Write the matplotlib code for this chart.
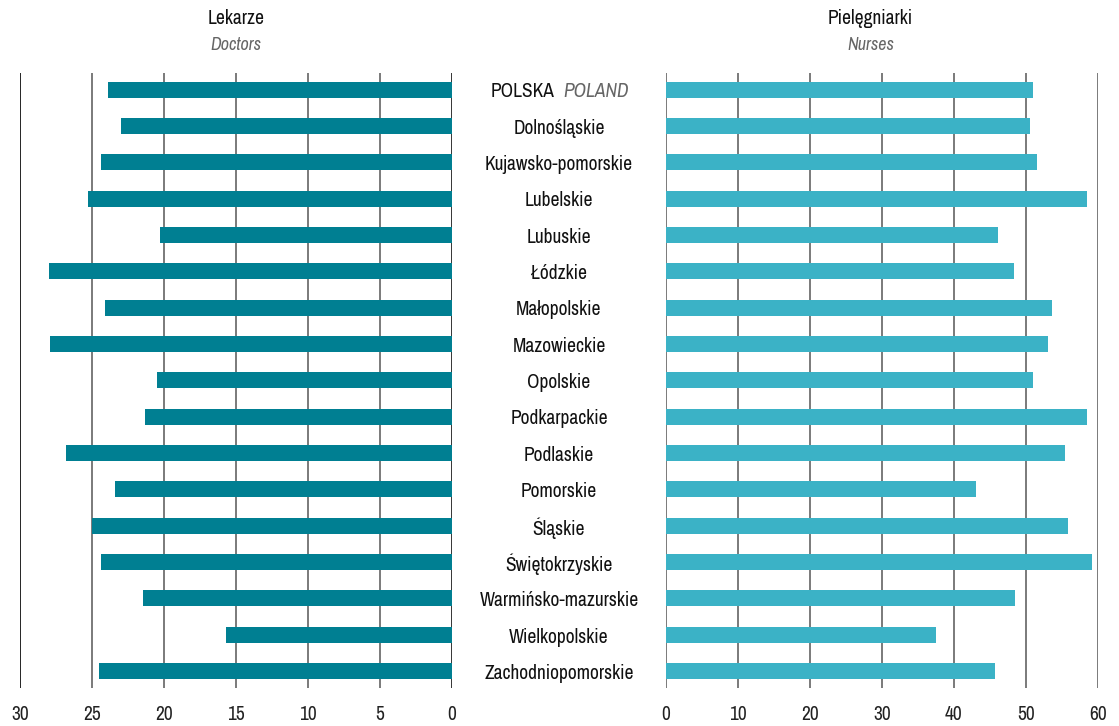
import matplotlib
matplotlib.use("Agg")
import matplotlib.pyplot as plt
from matplotlib import font_manager
import numpy as np

# look for a narrow face, the original uses a condensed font
narrow = sorted({f.name for f in font_manager.fontManager.ttflist
				 if 'Condensed' in f.name or 'Narrow' in f.name
				 or f.stretch in ('condensed', 'semi-condensed', 'extra-condensed')})
plt.rcParams['font.family'] = narrow[:1] + ['DejaVu Sans']

regions = ["POLSKA", "Dolnośląskie", "Kujawsko-pomorskie", "Lubelskie", "Lubuskie",
           "Łódzkie", "Małopolskie", "Mazowieckie", "Opolskie", "Podkarpackie",
           "Podlaskie", "Pomorskie", "Śląskie", "Świętokrzyskie",
           "Warmińsko-mazurskie", "Wielkopolskie", "Zachodniopomorskie"]
doctors = [23.9, 23.0, 24.4, 25.3, 20.3, 28.0, 24.1, 27.9, 20.5, 21.3,
           26.8, 23.4, 25.0, 24.4, 21.5, 15.7, 24.5]
nurses = [51.0, 50.6, 51.6, 58.5, 46.1, 48.4, 53.6, 53.1, 51.0, 58.5,
          55.4, 43.1, 55.9, 59.2, 48.5, 37.6, 45.7]
left_ticks = [0, 5, 10, 15, 20, 25, 30]
right_ticks = [0, 10, 20, 30, 40, 50, 60]

dark = "#007f92"
light = "#3bb2c6"
grid_c = "#707070"
fs = 13 if narrow else 12

fig = plt.figure(figsize=(11.19, 7.26), dpi=100)
axl = fig.add_axes([0.018, 0.052, 0.386, 0.848])
axr = fig.add_axes([0.595, 0.052, 0.386, 0.848])

y = np.arange(len(regions))

def style(ax, ticks, lim):
	for t in ticks:
		ax.axvline(t, color=grid_c, lw=1.3, zorder=0)
	ax.set_xlim(lim)
	ax.set_ylim(len(regions) - 0.53, -0.47)
	ax.set_xticks(ticks)
	ax.set_yticks([])
	ax.tick_params(axis='x', length=0, labelsize=fs + 1, pad=12, colors="#222222")
	for s in ax.spines.values():
		s.set_visible(False)

axl.barh(y, doctors, height=0.44, color=dark, zorder=2)
style(axl, left_ticks, (30, 0))
axl.axvline(30, color="#222222", lw=1.3, zorder=1)
axl.axvline(0, color="#333333", lw=1.3, zorder=1)

axr.barh(y, nurses, height=0.44, color=light, zorder=2)
style(axr, right_ticks, (0, 60))

# region names in the middle
xc = 0.5 * (0.404 + 0.595)
for i, name in enumerate(regions):
	yy = axl.transData.transform((0, i))[1]
	yf = fig.transFigure.inverted().transform((0, yy))[1] - 0.003
	if i == 0:
		fig.text(xc - 0.004, yf, "POLSKA", ha='right', va='center', fontsize=fs + 1, color="#111111")
		fig.text(xc + 0.004, yf, "POLAND", ha='left', va='center', fontsize=fs + 1,
				 color="#666666", style='italic')
	else:
		fig.text(xc, yf, name, ha='center', va='center', fontsize=fs + 1, color="#111111")

fig.text(0.211, 0.975, "Lekarze", ha='center', va='center', fontsize=fs + 1, color="#111111")
fig.text(0.211, 0.938, "Doctors", ha='center', va='center', fontsize=fs, color="#666666", style='italic')
fig.text(0.778, 0.975, "Pielęgniarki", ha='center', va='center', fontsize=fs + 1, color="#111111")
fig.text(0.778, 0.938, "Nurses", ha='center', va='center', fontsize=fs, color="#666666", style='italic')

fig.savefig("out.png", dpi=100)
